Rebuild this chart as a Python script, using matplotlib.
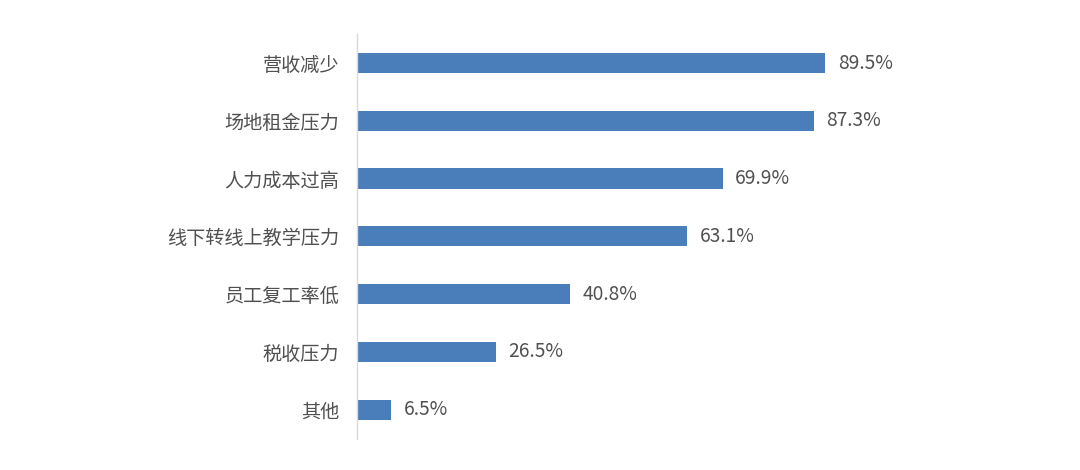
import matplotlib.pyplot as plt

plt.rcParams['font.family'] = ['Noto Sans CJK SC', 'DejaVu Sans']

# 数据
categories = ['营收减少', '场地租金压力', '人力成本过高', '线下转线上教学压力', '员工复工率低', '税收压力', '其他']
values = [89.5, 87.3, 69.9, 63.1, 40.8, 26.5, 6.5]

bar_color = '#4a7ebb'
text_color = '#505050'

fig = plt.figure(figsize=(10.8, 4.7), dpi=100)
ax = fig.add_axes([0.3306, 0.0668, 0.4843, 0.8606])

y = list(range(len(categories)))[::-1]
ax.barh(y, values, height=0.35, color=bar_color)

for yi, v in zip(y, values):
    ax.text(v + 2.4, yi, f'{v}%', va='center', ha='left', fontsize=13.8, color=text_color)

ax.set_xlim(0, 100)
ax.set_ylim(-0.5, len(categories) - 0.5)
ax.set_yticks(y)
ax.set_yticklabels(categories, fontsize=13.8, color=text_color)
ax.tick_params(axis='y', length=0, pad=13)
ax.set_xticks([])

for s in ['top', 'right', 'bottom']:
    ax.spines[s].set_visible(False)
ax.spines['left'].set_color('#d9d9d9')
ax.spines['left'].set_linewidth(1)

fig.savefig('out.png', dpi=100)
